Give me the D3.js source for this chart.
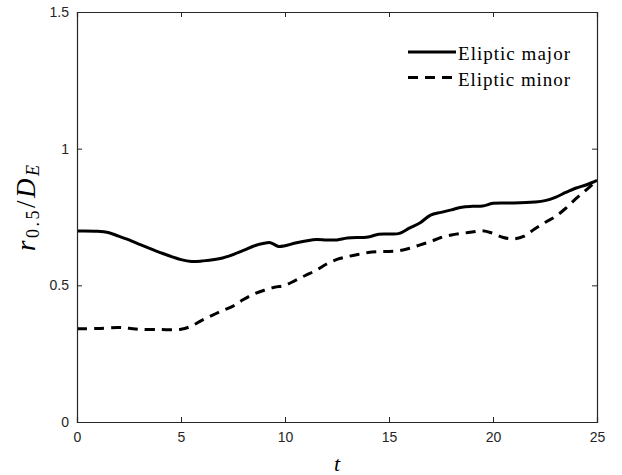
<!DOCTYPE html>
<html><head><meta charset="utf-8">
<script src="https://cdn.jsdelivr.net/npm/d3@7"></script>
<style>body{margin:0;background:#fff}svg{display:block}</style>
</head><body>
<script>
const tMajor = [0,1,1.5,2,2.5,3,4,5,5.5,6,7,8,8.5,9,9.3,9.7,10,10.5,11,11.5,12,12.5,13,14,14.5,15,15.5,16,16.5,17,17.5,18,18.5,19,19.5,20,21,22,22.5,23,23.5,24,24.5,25];
const major = [0.699,0.698,0.693,0.680,0.666,0.650,0.620,0.594,0.587,0.589,0.600,0.628,0.644,0.654,0.656,0.642,0.645,0.655,0.662,0.668,0.666,0.666,0.673,0.677,0.687,0.688,0.690,0.710,0.729,0.757,0.767,0.776,0.786,0.789,0.790,0.800,0.801,0.805,0.810,0.822,0.840,0.856,0.868,0.884];
const tMinor = [0,1,2,2.5,3,4,5,5.5,6,6.5,7,7.5,8,8.5,9,9.5,10,10.5,11,11.5,12,12.5,13,13.5,14,14.5,15,15.5,16,16.5,17,17.5,18,18.5,19,19.5,20,20.5,21,21.5,22,22.5,23,23.5,24,24.5,25];
const minor = [0.341,0.342,0.346,0.343,0.339,0.338,0.339,0.351,0.372,0.390,0.408,0.424,0.448,0.468,0.482,0.493,0.500,0.518,0.537,0.555,0.578,0.595,0.605,0.613,0.620,0.623,0.624,0.627,0.636,0.648,0.660,0.675,0.684,0.690,0.695,0.700,0.690,0.675,0.670,0.680,0.706,0.730,0.752,0.782,0.818,0.850,0.884];
const xTicks = [0,5,10,15,20,25];
const yTicks = [0,0.5,1,1.5];
const yTickLabels = ["0","0.5","1","1.5"];
const seriesNames = ["Eliptic major","Eliptic minor"];

const W=622,H=475;
const L=77,R=597,T=12,B=422;
const svg=d3.select("body").append("svg").attr("width",W).attr("height",H);
const x=d3.scaleLinear().domain([0,25]).range([L,R]);
const y=d3.scaleLinear().domain([0,1.5]).range([B,T]);
const axCol="#262626";
const tickFont="'Liberation Sans', Arial, sans-serif";
const serif="'Liberation Serif', serif";

// lines
const line=d3.line().curve(d3.curveCatmullRom.alpha(0.5));
svg.append("path").attr("d",line(tMajor.map((t,i)=>[x(t),y(major[i])])))
  .attr("fill","none").attr("stroke","#000").attr("stroke-width",3);
svg.append("path").attr("d",line(tMinor.map((t,i)=>[x(t),y(minor[i])])))
  .attr("fill","none").attr("stroke","#000").attr("stroke-width",3).attr("stroke-dasharray","10,7");

// axes
const gx=svg.append("g").attr("transform",`translate(0,${B})`)
  .call(d3.axisBottom(x).tickValues(xTicks).tickSize(-5).tickPadding(10).tickFormat(d3.format("d")));
const gxT=svg.append("g").attr("transform",`translate(0,${T})`)
  .call(d3.axisTop(x).tickValues(xTicks).tickSize(-5).tickFormat(""));
const gy=svg.append("g").attr("transform",`translate(${L},0)`)
  .call(d3.axisLeft(y).tickValues(yTicks).tickSize(-5).tickPadding(8).tickFormat((d,i)=>yTickLabels[i]));
const gyR=svg.append("g").attr("transform",`translate(${R},0)`)
  .call(d3.axisRight(y).tickValues(yTicks).tickSize(-5).tickFormat(""));
[gx,gxT,gy,gyR].forEach(g=>{
  g.selectAll("path.domain").attr("stroke",axCol).attr("stroke-width",1.2);
  g.selectAll(".tick line").attr("stroke",axCol).attr("stroke-width",1);
  g.selectAll(".tick text").attr("fill",axCol).style("font-family",tickFont).style("font-size","14px");
});

// axis labels
svg.append("text").attr("x",(L+R)/2).attr("y",471).attr("text-anchor","middle")
  .style("font-family",serif).style("font-style","italic").style("font-size","22px").text("t");
const yl=svg.append("text").attr("transform",`translate(35,208) rotate(-90)`).attr("text-anchor","middle")
  .attr("textLength",86).attr("lengthAdjust","spacing")
  .style("font-family",serif).style("font-size","27px");
yl.append("tspan").style("font-style","italic").text("r");
yl.append("tspan").attr("dy",4).style("font-size","18px").text("0.5");
yl.append("tspan").attr("dy",-4).text("/");
yl.append("tspan").style("font-style","italic").text("D");
yl.append("tspan").attr("dy",4).style("font-size","18px").style("font-style","italic").text("E");

// legend
const lg=svg.append("g");
[0,1].forEach(i=>{
  const ly=52+i*25.5;
  lg.append("line").attr("x1",408).attr("x2",456).attr("y1",ly).attr("y2",ly)
    .attr("stroke","#000").attr("stroke-width",3).attr("stroke-dasharray",i?"10,7":null);
  lg.append("text").attr("x",458).attr("y",ly+8).style("font-family",serif)
    .attr("textLength",112).attr("lengthAdjust","spacing")
    .style("font-size","19px").attr("fill","#000").text(seriesNames[i]);
});
</script>
</body></html>
